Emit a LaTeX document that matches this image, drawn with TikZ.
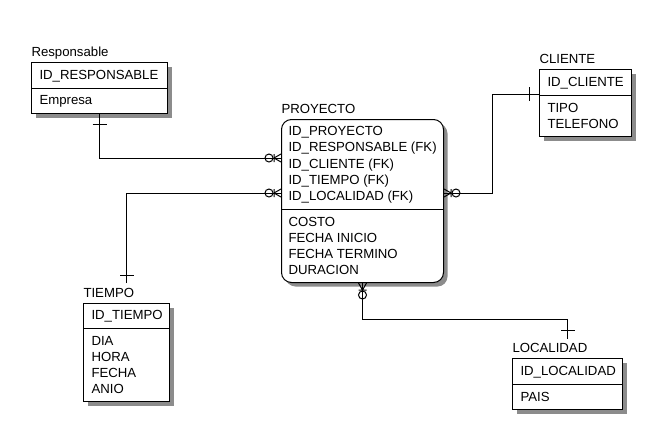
\documentclass[tikz,border=0pt]{standalone}
\usepackage{fontspec}
\setmainfont{Liberation Sans}
\usetikzlibrary{calc, positioning, shadows}
\usetikzlibrary{decorations.markings}

\tikzset{
  entity/.style={draw, fill=white, anchor=north west, inner sep=0pt,
    drop shadow={shadow xshift=4pt, shadow yshift=-4pt, fill=black!45, opacity=1}},
  attr/.style={anchor=base west, inner sep=0pt, font=\fontsize{13.2}{16}\selectfont},
  one/.style={postaction={decorate, decoration={markings,
    mark=at position #1 with {\draw (0pt,-7pt) -- (0pt,7pt);}}}},
  one/.default=10pt,
  zeromany/.style={postaction={decorate, decoration={markings,
    mark=at position 1 with {
      \draw (-7pt,0pt) -- (0pt,4pt) (-7pt,0pt) -- (0pt,-4pt) (-7pt,-4pt) -- (-7pt,4pt);
      \draw (-12pt,0pt) circle (4pt);}}}}
}

\begin{document}
\begin{tikzpicture}[x=1pt, y=-1pt, line width=1pt]
        \useasboundingbox[fill=white] (0,0) rectangle (656,445);

        % entities
        \node[entity, minimum width=136pt, minimum height=51pt] (resp) at (31,62) {};
        \node[entity, minimum width=162pt, minimum height=163pt, rounded corners=10pt] (proy) at (281,119) {};
        \node[entity, minimum width=92pt, minimum height=67pt] (cli) at (539,69) {};
        \node[entity, minimum width=86pt, minimum height=98pt] (tie) at (83,303) {};
        \node[entity, minimum width=110pt, minimum height=51pt] (loc) at (512,358) {};

        \foreach \e/\d in {resp/26, proy/90, cli/26, tie/25, loc/26}
            \draw ($(\e.north west)+(0,\d)$) -- ($(\e.north east)+(0,\d)$);

        % relationships
        \coordinate (pr1) at ($(proy.north west)+(0,39)$);
        \coordinate (pr2) at ($(proy.north west)+(0,74)$);
        \coordinate (pr3) at ($(proy.north east)+(0,74)$);
        \coordinate (clw) at ($(cli.north west)+(0,25)$);
        \coordinate (tiet) at ($(tie.north)+(0,-20)$);
        \coordinate (loct) at ($(loc.north)+(0,-19)$);

        \draw [one, zeromany] (resp.south) |- (pr1);
        \draw [one=8pt, zeromany] (tiet) |- (pr2);
        \draw [one, zeromany] (clw) -| ($(pr3)+(48,0)$) -- (pr3);
        \draw [one=9pt, zeromany] (loct) -- ++(0,-20) -| (proy.south);

        % labels and attributes
        \foreach \n/\x/\y/\t in
        {rl/31/52/Responsable,
         ra1/39/75/ID\_RESPONSABLE,
         ra2/39/100/Empresa,
         pl/281/109/PROYECTO,
         pa1/288/131/ID\_PROYECTO,
         pa2/288/147.25/ID\_RESPONSABLE (FK),
         pa3/288/163.5/ID\_CLIENTE (FK),
         pa4/288/179.75/ID\_TIEMPO (FK),
         pa5/288/196/ID\_LOCALIDAD (FK),
         pa6/288/222/COSTO,
         pa7/288/238/FECHA INICIO,
         pa8/288/254/FECHA TERMINO,
         pa9/288/270/DURACION,
         cl/539/59/CLIENTE,
         ca1/547/82/ID\_CLIENTE,
         ca2/547/108/TIPO,
         ca3/547/124/TELEFONO,
         tl/83/293/TIEMPO,
         ta1/91/315/ID\_TIEMPO,
         ta2/91/341/DIA,
         ta3/91/357/HORA,
         ta4/91/373/FECHA,
         ta5/91/389/ANIO,
         ll/512/348/LOCALIDAD,
         la1/520/371/ID\_LOCALIDAD,
         la2/520/397/PAIS
        }
        {
            \node[attr] (\n) at (\x,\y+4.7) {\t};
        };
\end{tikzpicture}
\end{document}
